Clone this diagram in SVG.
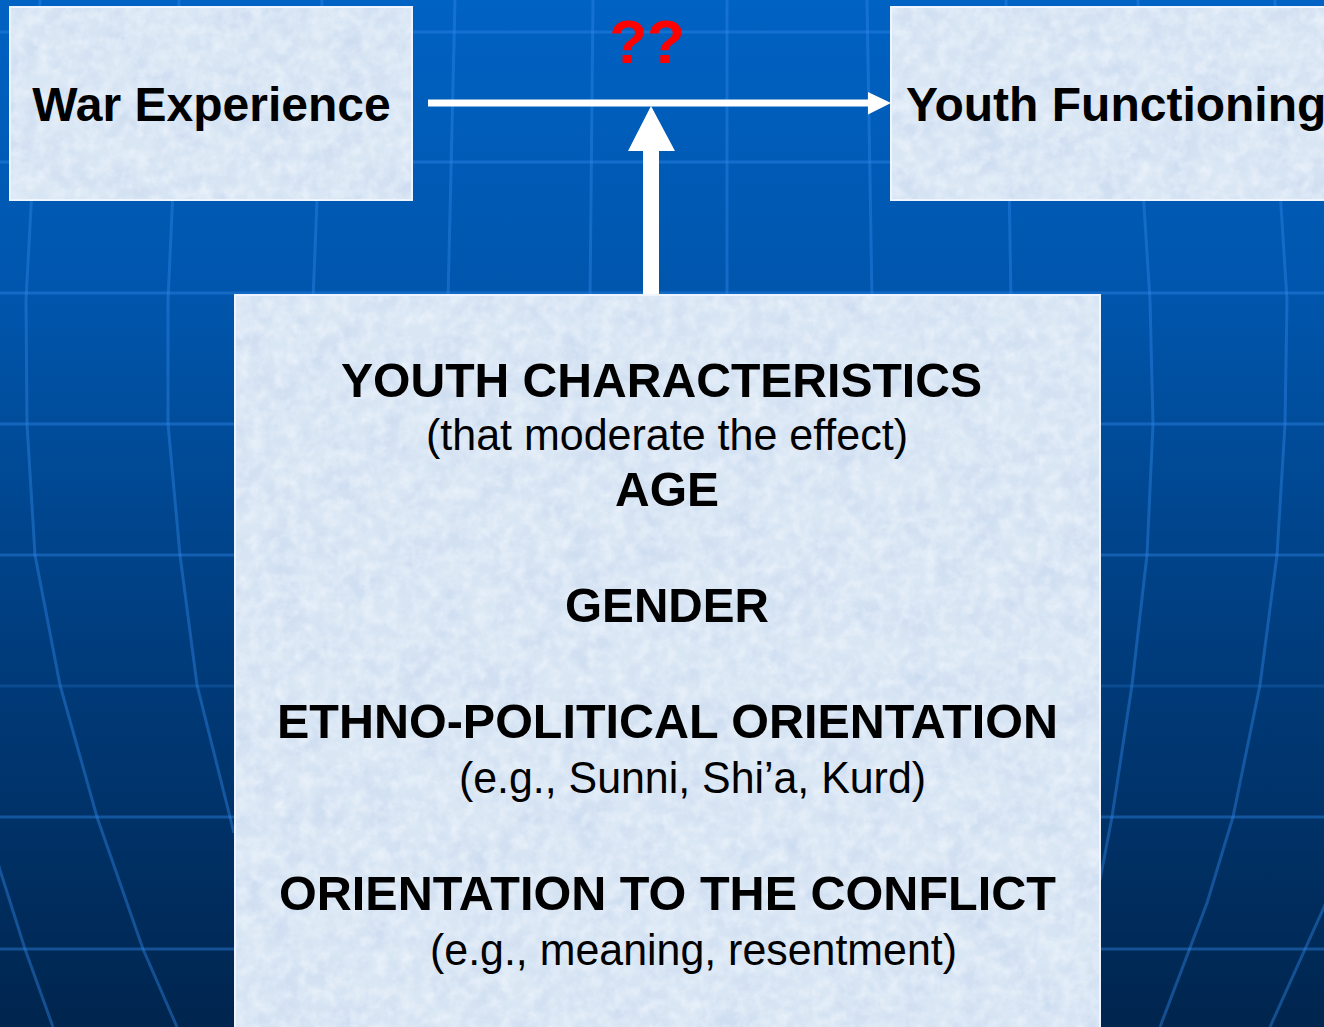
<svg xmlns="http://www.w3.org/2000/svg" width="1324" height="1027" viewBox="0 0 1324 1027">
  <defs>
    <linearGradient id="bg" x1="0" y1="0" x2="0" y2="1">
      <stop offset="0" stop-color="#0062c3"/>
      <stop offset="0.3" stop-color="#0055ab"/>
      <stop offset="0.62" stop-color="#003d7e"/>
      <stop offset="1" stop-color="#00254e"/>
    </linearGradient>
    <filter id="tex" x="0" y="0" width="1" height="1" color-interpolation-filters="sRGB">
      <feTurbulence type="fractalNoise" baseFrequency="0.03" numOctaves="4" seed="7" result="n"/>
      <feColorMatrix in="n" type="matrix" values="0 0 0 0 0.76  0 0 0 0 0.83  0 0 0 0 0.93  1.1 0 0 0 -0.42" result="dark"/>
      <feTurbulence type="fractalNoise" baseFrequency="0.08" numOctaves="3" seed="19" result="m"/>
      <feColorMatrix in="m" type="matrix" values="0 0 0 0 0.96  0 0 0 0 0.98  0 0 0 0 1  0 1.1 0 0 -0.4" result="light"/>
      <feMerge>
        <feMergeNode in="dark"/>
        <feMergeNode in="light"/>
      </feMerge>
    </filter>
    <style>
      .grid { fill: none; stroke: #3088ea; stroke-opacity: 0.42; stroke-width: 3; stroke-linejoin: round; }
      .box { fill: #d9e6f4; stroke: #eef5ff; stroke-width: 2; }
      .texture { fill: #ffffff; }
      .title { font-family: "Liberation Sans", Arial, sans-serif; font-weight: bold; font-size: 48px; fill: #000000; }
      .head { font-family: "Liberation Sans", Arial, sans-serif; font-weight: bold; font-size: 49px; fill: #000000; text-anchor: middle; }
      .sub { font-family: "Liberation Sans", Arial, sans-serif; font-size: 44px; fill: #000000; text-anchor: middle; }
      .qq { font-family: "Liberation Sans", Arial, sans-serif; font-weight: bold; font-size: 62px; fill: #ff0000; text-anchor: middle; }
      .arrow { fill: #ffffff; stroke: none; }
    </style>
  </defs>

  <g id="background">
    <rect x="0" y="0" width="1324" height="1027" fill="url(#bg)"/>
    <line class="grid" x1="0" y1="32" x2="1324" y2="32"/>
    <line class="grid" x1="0" y1="162" x2="1324" y2="162"/>
    <line class="grid" x1="0" y1="293" x2="1324" y2="293"/>
    <line class="grid" x1="0" y1="424" x2="1324" y2="424"/>
    <line class="grid" x1="0" y1="555" x2="1324" y2="555"/>
    <line class="grid" x1="0" y1="686" x2="1324" y2="686" style="stroke-opacity:0.22"/>
    <line class="grid" x1="0" y1="817" x2="1324" y2="817"/>
    <line class="grid" x1="0" y1="949" x2="1324" y2="949"/>
    <path class="grid" d="M40,0 L33,170 L26,300 L27,424 L35,555 L60,685 L97,817 L143,949 L177,1027"/>
    <path class="grid" d="M179,0 L173,190 L168,300 L168,424 L180,555 L197,685 L234,833"/>
    <path class="grid" d="M-20,800 L0,870 L25,949 L53,1027"/>
    <path class="grid" d="M322,0 L317,200 L313,300"/>
    <path class="grid" d="M455,0 L448,300"/>
    <path class="grid" d="M593,0 L590,300"/>
    <path class="grid" d="M727,0 L727,300"/>
    <path class="grid" d="M867,0 L872,300"/>
    <path class="grid" d="M1006,0 L1011,300"/>
    <path class="grid" d="M1138,0 L1143,190 L1150,300 L1153,424 L1147,555 L1132,685 L1112,817 L1100,880"/>
    <path class="grid" d="M1275,0 L1280,190 L1287,300 L1285,424 L1277,555 L1260,685 L1233,817 L1207,903 L1160,1027"/>
    <path class="grid" d="M1340,870 L1324,907 L1270,1027"/>
  </g>

  <g id="connectors">
    <path id="edge-war-to-youth" class="arrow" d="M428,99.5 L868,99.5 L868,92 L891,103 L868,114.5 L868,106.5 L428,106.5 Z"/>
    <path id="edge-moderator" class="arrow" d="M643,296 L643,151 L628,151 L651,106 L675,151 L659,151 L659,296 Z"/>
  </g>

  <text id="label-qq" class="qq" x="647" y="63">??</text>

  <g id="node-war-experience">
    <rect class="box" x="10" y="7" width="402" height="193"/>
    <rect class="texture" x="11" y="8" width="400" height="191" filter="url(#tex)"/>
    <text class="title" x="211.5" y="121" text-anchor="middle">War Experience</text>
  </g>

  <g id="node-youth-functioning">
    <rect class="box" x="891" y="7" width="445" height="193"/>
    <rect class="texture" x="892" y="8" width="443" height="191" filter="url(#tex)"/>
    <text class="title" x="906" y="121">Youth Functioning</text>
  </g>

  <g id="node-youth-characteristics">
    <rect class="box" x="235" y="295" width="865" height="745"/>
    <rect class="texture" x="236" y="296" width="863" height="743" filter="url(#tex)"/>
    <text class="head" x="661.5" y="397" textLength="641" lengthAdjust="spacingAndGlyphs">YOUTH CHARACTERISTICS</text>
    <text class="sub" x="667" y="450" textLength="482" lengthAdjust="spacingAndGlyphs">(that moderate the effect)</text>
    <text class="head" x="667" y="506" textLength="104" lengthAdjust="spacingAndGlyphs">AGE</text>
    <text class="head" x="667" y="622" textLength="204" lengthAdjust="spacingAndGlyphs">GENDER</text>
    <text class="head" x="667.5" y="738" textLength="781" lengthAdjust="spacingAndGlyphs">ETHNO-POLITICAL ORIENTATION</text>
    <text class="sub" x="692.5" y="793" textLength="467" lengthAdjust="spacingAndGlyphs">(e.g., Sunni, Shi’a, Kurd)</text>
    <text class="head" x="667.5" y="910" textLength="777" lengthAdjust="spacingAndGlyphs">ORIENTATION TO THE CONFLICT</text>
    <text class="sub" x="693.5" y="965" textLength="527" lengthAdjust="spacingAndGlyphs">(e.g., meaning, resentment)</text>
  </g>
</svg>
